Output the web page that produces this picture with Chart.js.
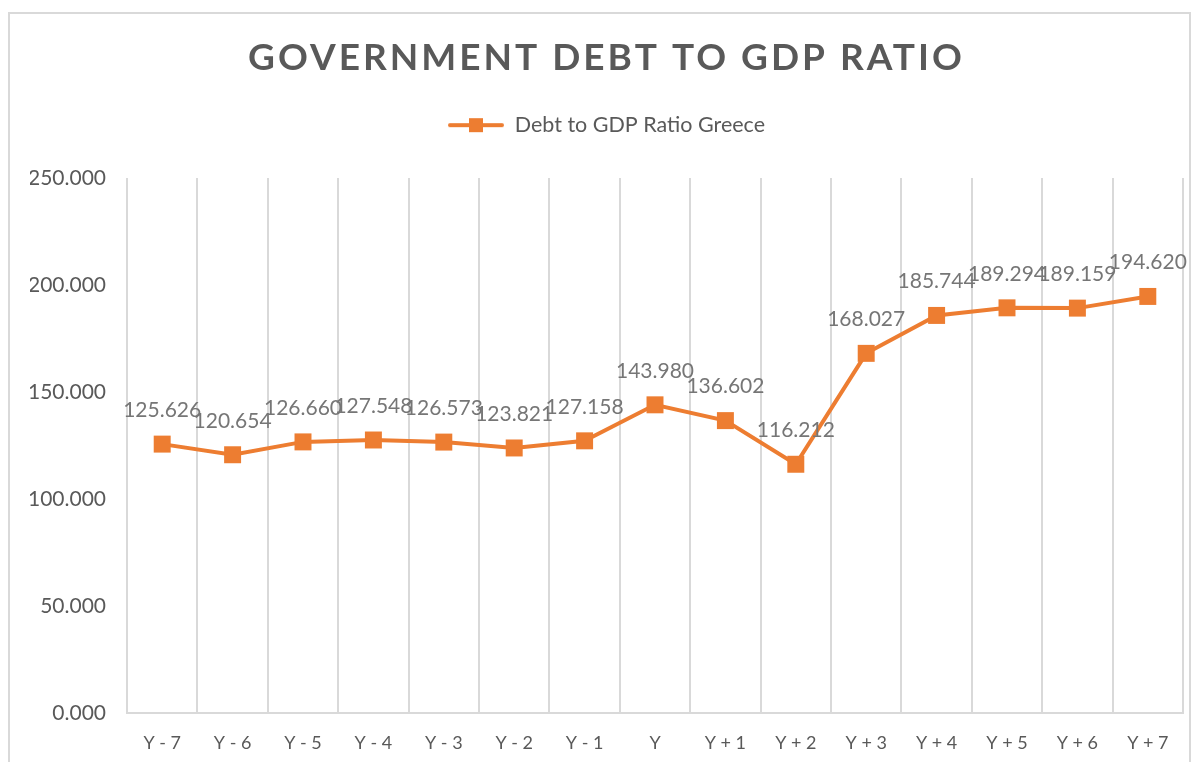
<!DOCTYPE html>
<html>
<head>
<meta charset="utf-8">
<script src="https://cdn.jsdelivr.net/npm/chart.js@4.4.1/dist/chart.umd.min.js"></script>
<style>
  html, body { margin: 0; padding: 0; background: #ffffff; width: 1200px; height: 762px; overflow: hidden; }
  #frame { position: absolute; left: 8px; top: 12px; width: 1183px; height: 770px; border: 2px solid #d9d9d9; box-sizing: border-box; }
  #wrap { position: absolute; left: 0; top: 0; width: 1200px; height: 762px; }
</style>
</head>
<body>
<div id="frame"></div>
<div id="wrap"><canvas id="c" width="1200" height="762"></canvas></div>
<script>
const categories = ["Y - 7", "Y - 6", "Y - 5", "Y - 4", "Y - 3", "Y - 2", "Y - 1", "Y", "Y + 1", "Y + 2", "Y + 3", "Y + 4", "Y + 5", "Y + 6", "Y + 7"];
const debtRatio = [125.626, 120.654, 126.660, 127.548, 126.573, 123.821, 127.158, 143.980, 136.602, 116.212, 168.027, 185.744, 189.294, 189.159, 194.620];
const seriesName = "Debt to GDP Ratio Greece";
const chartTitle = "GOVERNMENT DEBT TO GDP RATIO";
const yTicks = [0, 50, 100, 150, 200, 250];

const ORANGE = "#ED7D31";
const FONT = "Lato, 'Open Sans', sans-serif";

// legend symbol: line with square marker
const legendIcon = document.createElement('canvas');
legendIcon.width = 56; legendIcon.height = 16;
(function(){
  const g = legendIcon.getContext('2d');
  g.strokeStyle = ORANGE; g.lineWidth = 4; g.lineCap = 'round';
  g.beginPath(); g.moveTo(2, 8); g.lineTo(54, 8); g.stroke();
  g.fillStyle = ORANGE; g.fillRect(21, 1, 14, 14);
})();

const boxTweaks = {
  id: 'boxTweaks',
  beforeLayout(chart) {
    const lg = chart.legend;
    if (lg && !lg._wrapped) {
      const origFit = lg.fit;
      lg.fit = function(...args) {
        origFit.apply(this, args);
        this.height += 32;
      };
      lg._wrapped = true;
    }
  },
  beforeDraw(chart) {
    const tb = chart.titleBlock;
    if (tb && !tb._wrapped) {
      const orig = tb.draw;
      tb.draw = function(...args) {
        const ctx = this.ctx;
        ctx.save();
        ctx.letterSpacing = '3px';
        orig.apply(this, args);
        ctx.restore();
      };
      tb._wrapped = true;
    }
  }
};

const dataLabels = {
  id: 'dataLabels',
  afterDatasetsDraw(chart) {
    const ctx = chart.ctx;
    const meta = chart.getDatasetMeta(0);
    const data = chart.data.datasets[0].data;
    ctx.save();
    ctx.font = "21px " + FONT;
    ctx.fillStyle = "#767676";
    ctx.textAlign = 'center';
    ctx.textBaseline = 'middle';
    meta.data.forEach((pt, i) => {
      ctx.fillText(Number(data[i]).toFixed(3), pt.x, pt.y - 34);
    });
    ctx.restore();
  }
};

new Chart(document.getElementById('c'), {
  type: 'line',
  data: {
    labels: categories,
    datasets: [{
      label: seriesName,
      data: debtRatio,
      borderColor: ORANGE,
      backgroundColor: ORANGE,
      borderWidth: 4,
      pointStyle: 'rect',
      pointRadius: 12,
      pointHoverRadius: 12,
      pointBorderWidth: 0,
      tension: 0
    }]
  },
  options: {
    responsive: false,
    animation: false,
    devicePixelRatio: 1,
    layout: { padding: { left: 30, right: 17, top: 0, bottom: 0 } },
    plugins: {
      title: {
        display: true,
        text: chartTitle,
        color: "#595959",
        font: { family: FONT, size: 37, weight: 'bold' },
        padding: { top: 36, bottom: 28 }
      },
      legend: {
        display: true,
        position: 'top',
        labels: {
          usePointStyle: true,
          pointStyle: legendIcon,
          pointStyleWidth: 56,
          boxHeight: 16,
          color: "#595959",
          font: { family: FONT, size: 21.5 },
          padding: 6
        }
      },
      tooltip: { enabled: false }
    },
    scales: {
      x: {
        offset: true,
        grid: { display: true, offset: true, color: "#d9d9d9", lineWidth: 2, drawTicks: false },
        border: { display: true, color: "#d9d9d9", width: 2 },
        ticks: { color: "#595959", font: { family: FONT, size: 18 }, padding: 19, maxRotation: 0, autoSkip: false },
        afterFit(scale) { scale.height = 49; }
      },
      y: {
        min: 0, max: 250,
        afterBuildTicks(scale) { scale.ticks = yTicks.map(v => ({ value: v })); },
        grid: { display: false, drawTicks: false },
        border: { display: false },
        ticks: {
          color: "#595959",
          font: { family: FONT, size: 21 },
          padding: 21,
          callback: (v) => Number(v).toFixed(3)
        },
        afterFit(scale) { scale.width = 97; }
      }
    }
  },
  plugins: [boxTweaks, dataLabels]
});
</script>
</body>
</html>
